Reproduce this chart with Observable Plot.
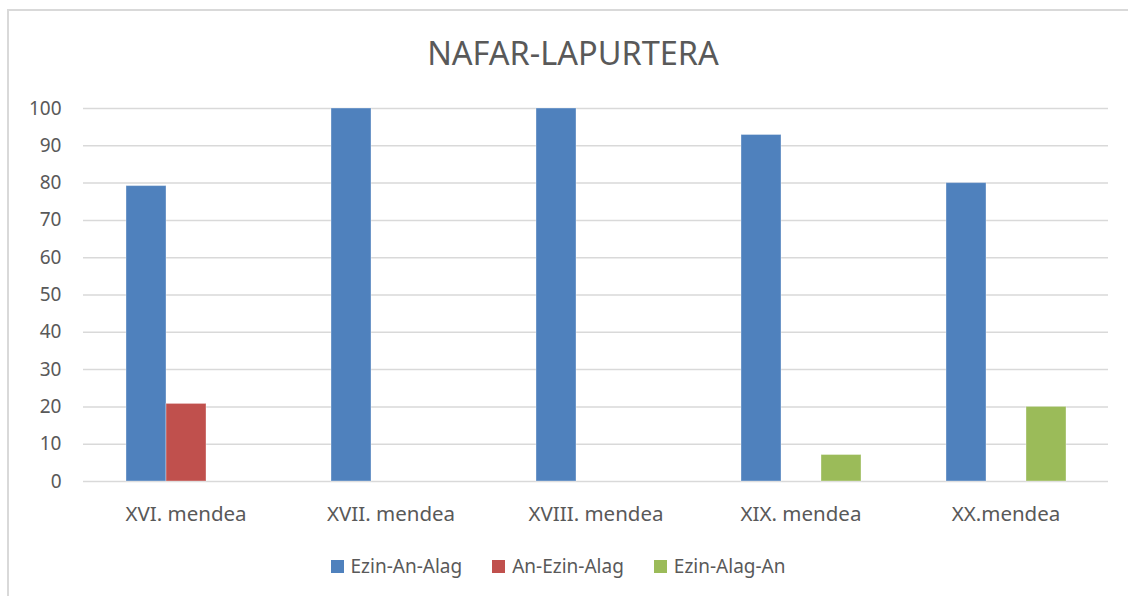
<!DOCTYPE html>
<html>
<head>
<meta charset="utf-8">
<script src="https://cdn.jsdelivr.net/npm/d3@7"></script>
<script src="https://cdn.jsdelivr.net/npm/@observablehq/plot@0.6"></script>
<style>
  html, body { margin: 0; padding: 0; background: #fff; width: 1128px; height: 596px; overflow: hidden; }
  body { position: relative; font-family: "Noto Sans", sans-serif; color: #595959; }
  #frame { position: absolute; left: 7px; top: 9px; width: 1300px; height: 800px; border: 2px solid #d9d9d9; box-sizing: border-box; }
  #title { position: absolute; left: 8px; width: 1130px; top: 30px; text-align: center; font-size: 32.5px; color: #595959; }
  #chart { position: absolute; left: 0; top: 0; }
  #legend { position: absolute; left: 0; width: 1116px; top: 553px; display: flex; justify-content: center; gap: 30px; font-size: 19px; color: #595959; }
  .item { display: flex; align-items: center; gap: 7px; }
  .sw { width: 13px; height: 13px; display: inline-block; }
</style>
</head>
<body>
<div id="frame"></div>
<div id="chart"></div>
<div id="title"></div>
<div id="legend"></div>
<script>
const title = "NAFAR-LAPURTERA";
const categories = ["XVI. mendea", "XVII. mendea", "XVIII. mendea", "XIX. mendea", "XX.mendea"];
const series = ["Ezin-An-Alag", "An-Ezin-Alag", "Ezin-Alag-An"];
const ezinAnAlag = [79.2, 100, 100, 92.9, 80];
const anEzinAlag = [20.8, 0, 0, 0, 0];
const ezinAlagAn = [0, 0, 0, 7.1, 20];
const yTicks = [0, 10, 20, 30, 40, 50, 60, 70, 80, 90, 100];
const colors = ["#4f81bd", "#c0504d", "#9bbb59"];

const seriesValues = [ezinAnAlag, anEzinAlag, ezinAlagAn];
const data = [];
categories.forEach((c, i) => {
  series.forEach((s, j) => {
    data.push({category: c, series: s, value: seriesValues[j][i]});
  });
});

document.getElementById("title").textContent = title;

const chart = Plot.plot({
  width: 1128,
  height: 540,
  marginTop: 108,
  marginLeft: 83,
  marginRight: 20,
  marginBottom: 59,
  style: {fontFamily: "'Noto Sans', sans-serif", fontSize: "19px", color: "#595959", background: "transparent"},
  fx: {domain: categories, paddingInner: 0, paddingOuter: 0, label: null},
  x: {domain: series, paddingInner: 0, paddingOuter: 1.06, axis: null},
  y: {domain: [0, 100], label: null},
  color: {domain: series, range: colors},
  marks: [
    Plot.gridY(yTicks, {stroke: "#d9d9d9", strokeOpacity: 1, strokeWidth: 1.5}),
    Plot.barY(data, {fx: "category", x: "series", y: "value", fill: "series", stroke: "#ffffff", strokeOpacity: 0.35, strokeWidth: 1}),
    Plot.axisY(yTicks, {tickSize: 0, tickPadding: 22, fill: "#595959", fontSize: 19, label: null}),
    Plot.axisFx({anchor: "bottom", tickSize: 0, tickPadding: 25, fill: "#595959", fontSize: 20.5, label: null})
  ]
});
document.getElementById("chart").appendChild(chart);

const legend = document.getElementById("legend");
series.forEach((s, i) => {
  const item = document.createElement("div");
  item.className = "item";
  const sw = document.createElement("span");
  sw.className = "sw";
  sw.style.background = colors[i];
  const t = document.createElement("span");
  t.textContent = s;
  item.appendChild(sw);
  item.appendChild(t);
  legend.appendChild(item);
});
</script>
</body>
</html>
